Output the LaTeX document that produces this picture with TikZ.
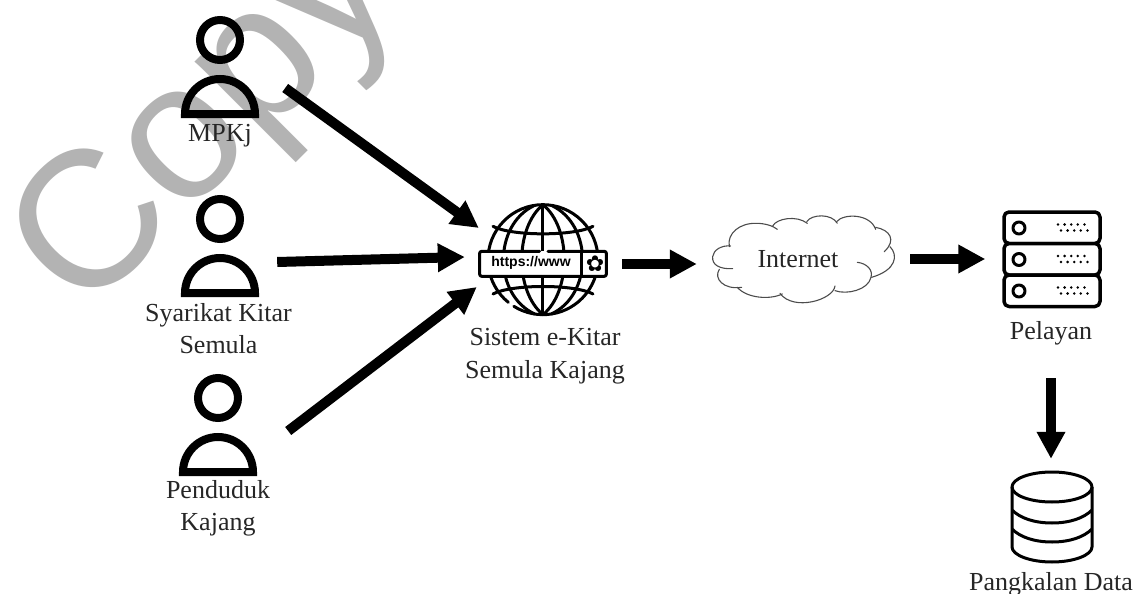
\documentclass[tikz,border=0pt]{standalone}
\usepackage{fontspec}
\setmainfont{Liberation Serif}
\newfontfamily\wmfont{Liberation Sans}
\newfontfamily\urlfont{Liberation Sans}
\newfontfamily\symfont{DejaVu Sans}
\usetikzlibrary{arrows.meta}
\definecolor{wm}{HTML}{B3B3B3}
\definecolor{ink}{HTML}{262626}
\tikzset{
  x=1pt,y=-1pt,
  lbl/.style={inner sep=0pt,align=center,text=ink,font=\fontsize{26}{32}\selectfont},
  iconbox/.style={inner sep=0pt,minimum width=#1},
  flow/.style={line width=10pt,-{Triangle[length=27pt,width=27pt]},black},
  bold/.style={line width=8pt,black,miter limit=10},
  icon/.style={line width=3.5pt,black,line cap=round,line join=round},
  cloudline/.style={line width=1.1pt,draw=black!70,line cap=round},
}
\begin{document}
\begin{tikzpicture}
\useasboundingbox (0,0) rectangle (1136,594);
\clip (0,0) rectangle (1136,594);
\node[rotate=45,anchor=base west,inner sep=0pt,text=wm,font=\wmfont\fontsize{194}{194}\selectfont] (wmark) at (83,319) {Copy};

% icon holders
\node[iconbox=80pt,minimum height=78pt] (p1) at (220,79) {};
\node[iconbox=80pt,minimum height=44pt] (p2) at (220,275) {};
\node[iconbox=80pt,minimum height=44pt] (p3) at (218,450) {};
\node[iconbox=116pt,minimum height=116pt] (globe) at (543,260) {};
\node[iconbox=182pt,minimum height=90pt] (cloudbox) at (804,260) {};
\node[iconbox=98pt,minimum height=96pt] (srv) at (1051.5,259.5) {};
\node[iconbox=80pt,minimum height=90pt] (db) at (1052,517) {};

% persons
\foreach \cx/\cy in {220/0,220/179,218/358}{
  \draw[bold] (\cx,40+\cy) circle[radius=20];
  \draw[bold] (\cx-35,114+\cy) arc[start angle=180,end angle=0,x radius=35,y radius=-35] -- cycle;
}

% globe
\begin{scope}[shift={(478,198)},x=0.3333pt,y=-0.3333pt,line width=3pt,black,line cap=round,line join=round]
  \draw ({195+165*cos(129)},{185+165*sin(129)}) arc[start angle=129,end angle=482,radius=165];
  \draw (195,20) -- (195,350);
  \draw (195,20) .. controls (110,90) and (110,280) .. (195,350);
  \draw (195,20) .. controls (280,90) and (280,280) .. (195,350);
  \draw (170,22) .. controls (45,80) and (45,290) .. (170,348);
  \draw (220,22) .. controls (345,80) and (345,290) .. (220,348);
  \draw (45,85) .. controls (100,115) and (290,115) .. (345,85);
  \draw (45,288) .. controls (100,258) and (290,258) .. (345,288);
  \fill[white] (5,160) rectangle (385,235);
  \draw[rounded corners=2pt] (185,160) -- (5,160) -- (5,235) -- (385,235) -- (385,160) -- (210,160);
  \draw (312,160) -- (312,235);
\end{scope}
\node[inner sep=0pt,font=\urlfont\bfseries\fontsize{14}{14}\selectfont] (url) at (531,263) {https://www};
\node[inner sep=0pt,font=\symfont\fontsize{22}{22}\selectfont] (flower) at (595,263.5) {✿};

% cloud
\begin{scope}[shift={(700,190)},x=0.3333pt,y=-0.3333pt,cloudline]
  \draw (98,236) .. controls (60,238) and (35,225) .. (38,200) .. controls (40,180) and (65,165) .. (92,168);
  \draw (88,170) .. controls (80,130) and (120,98) .. (170,100) .. controls (195,100) and (220,108) .. (232,118);
  \draw (218,108) .. controls (230,85) and (290,75) .. (322,100);
  \draw (320,95) .. controls (335,72) and (395,70) .. (412,100);
  \draw (410,95) .. controls (430,70) and (510,70) .. (527,118);
  \draw (527,112) .. controls (570,120) and (590,150) .. (553,185);
  \draw (570,170) .. controls (595,195) and (590,240) .. (515,262);
  \draw (472,217) .. controls (500,220) and (520,240) .. (513,262) .. controls (505,300) and (440,315) .. (405,302);
  \draw (405,288) .. controls (400,330) and (280,365) .. (240,310);
  \draw (247,312) .. controls (210,330) and (140,325) .. (112,292);
  \draw (125,292) .. controls (70,300) and (40,265) .. (58,238);
\end{scope}

% server
\begin{scope}[icon]
  \foreach \y in {212,243.5,275}{
    \draw[rounded corners=5pt,fill=white] (1004,\y) rectangle (1100,\y+31.5);
    \draw[line width=3pt] (1019,\y+16) circle[radius=6];
    \foreach \i in {0,...,4}{
      \fill (1058+\i*6.6,\y+12.5) circle[radius=1.4];
      \fill (1061+\i*6.6,\y+18.5) circle[radius=1.4];
    }
  }
\end{scope}

% database
\begin{scope}[line width=3pt,black,line join=round]
  \draw (1052,487) ellipse[x radius=40,y radius=15];
  \draw (1012,487) -- (1012,547) .. controls (1012,555) and (1030,562) .. (1052,562) .. controls (1074,562) and (1092,555) .. (1092,547) -- (1092,487);
  \draw (1012,510) .. controls (1020,518) and (1034,523) .. (1052,523) .. controls (1070,523) and (1084,518) .. (1092,510);
  \draw (1012,529) .. controls (1020,537) and (1034,542) .. (1052,542) .. controls (1070,542) and (1084,537) .. (1092,529);
\end{scope}

% labels
\node[lbl] (lmpkj) at (220,136) {MPKj};
\node[lbl] (lsyar) at (218.5,329) {Syarikat Kitar\\Semula};
\node[lbl] (lpend) at (218,508) {Penduduk\\Kajang};
\node[lbl,font=\fontsize{26}{33}\selectfont] (lsis) at (545,356) {Sistem e-Kitar\\Semula Kajang};
\node[lbl] (lnet) at (798,259) {Internet};
\node[lbl] (lpel) at (1051,333) {Pelayan};
\node[lbl] (lpang) at (1051,584) {Pangkalan Data};

% connectors
\draw[flow] ([xshift=25pt,yshift=-9pt]p1.east) -- ([xshift=-6pt,yshift=32pt]globe.west);
\draw[flow] ([xshift=17pt,yshift=13pt]p2.east) -- ([xshift=-20pt,yshift=3pt]globe.west);
\draw[flow] ([xshift=30pt,yshift=19pt]p3.east) -- ([xshift=-8pt,yshift=-27pt]globe.west);
\draw[flow] ([xshift=21pt,yshift=-4pt]globe.east) -- ([xshift=-16pt,yshift=-4pt]cloudbox.west);
\draw[flow] ([xshift=15pt,yshift=1pt]cloudbox.east) -- ([xshift=-17pt,yshift=0.5pt]srv.west);
\draw[flow] ([xshift=-0.5pt,yshift=-70.5pt]srv.south) -- ([xshift=-1pt,yshift=13pt]db.north);
\end{tikzpicture}
\end{document}
